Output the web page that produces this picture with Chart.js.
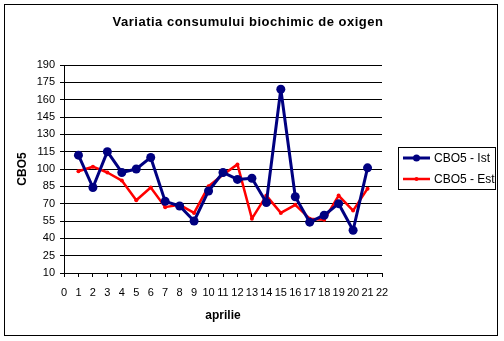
<!DOCTYPE html>
<html lang="en">
  <head>
    <meta charset="UTF-8" />
    <title>CBO5</title>
    <style>
      html, body { margin: 0; padding: 0; background: #fff; }
      #wrap { width: 504px; height: 341px; }
    </style>
  </head>
  <body>
    <div id="wrap"><canvas id="myChart" width="504" height="341"></canvas></div>
    <script src="https://cdn.jsdelivr.net/npm/chart.js@4.4.1/dist/chart.umd.min.js"></script>
    <script>
      const days = [1, 2, 3, 4, 5, 6, 7, 8, 9, 10, 11, 12, 13, 14, 15, 16, 17, 18, 19, 20, 21];
      const cboIst = [112, 84, 115, 97, 100, 110, 72, 68, 55, 81, 97, 91, 92, 71, 169, 76, 54, 60, 70, 47, 101];
      const cboEst = [98, 102, 97, 90, 73, 84, 67, 69, 62, 85, 95, 104, 57, 77, 62, 69, 57, 56, 77, 64, 83];
      const seriesNames = ["CBO5 - Ist", "CBO5 - Est"];
      const chartTitle = "Variatia consumului biochimic de oxigen";
      const FONT = "'Liberation Sans', Arial, sans-serif";

      // outer frame, centred title and legend box
      const framePlugin = {
        id: "frame",
        beforeDraw(chart) {
          const c = chart.ctx;
          c.save();
          c.fillStyle = "#fff";
          c.fillRect(0, 0, chart.width, chart.height);
          c.strokeStyle = "#000";
          c.lineWidth = 1;
          c.strokeRect(4.5, 4.5, 493, 331);
          c.restore();
        },
        afterDraw(chart) {
          const c = chart.ctx;
          c.save();
          c.fillStyle = "#000";
          c.font = "bold 13px " + FONT;
          c.letterSpacing = "0.5px";
          c.textAlign = "center";
          c.textBaseline = "middle";
          c.fillText(chartTitle, 248, 22);
          c.letterSpacing = "0px";

          c.strokeStyle = "#000";
          c.lineWidth = 1;
          c.strokeRect(398.5, 147.5, 97, 42);
          c.font = "12px " + FONT;
          c.textAlign = "left";
          chart.data.datasets.forEach((ds, i) => {
            const y = 158 + i * 21;
            c.strokeStyle = ds.borderColor;
            c.lineWidth = ds.borderWidth;
            c.beginPath();
            c.moveTo(403, y);
            c.lineTo(430, y);
            c.stroke();
            c.fillStyle = ds.pointBackgroundColor;
            c.beginPath();
            c.arc(416.5, y, i === 0 ? 3.5 : 2, 0, Math.PI * 2);
            c.fill();
            c.fillStyle = "#000";
            c.fillText(ds.label, 434, y + 1);
          });
          c.restore();
        },
      };

      const ctx = document.getElementById("myChart");
      const myChart = new Chart(ctx, {
        type: "line",
        data: {
          datasets: [
            {
              label: seriesNames[0],
              data: days.map((d, i) => ({ x: d, y: cboIst[i] })),
              borderColor: "#000080",
              backgroundColor: "#000080",
              pointBackgroundColor: "#000080",
              pointBorderColor: "#000080",
              borderWidth: 3,
              borderJoinStyle: "round",
              pointRadius: 4.5,
              pointBorderWidth: 0,
              tension: 0,
            },
            {
              label: seriesNames[1],
              data: days.map((d, i) => ({ x: d, y: cboEst[i] })),
              borderColor: "#ff0000",
              backgroundColor: "#ff0000",
              pointBackgroundColor: "#ff0000",
              pointBorderColor: "#ff0000",
              borderWidth: 2.5,
              borderJoinStyle: "round",
              pointRadius: 2,
              pointBorderWidth: 0,
              tension: 0,
            },
          ],
        },
        options: {
          responsive: false,
          animation: false,
          layout: { padding: { left: 0, right: 122, top: 65, bottom: 0 } },
          plugins: {
            legend: { display: false },
            tooltip: { enabled: false },
            title: { display: false },
          },
          scales: {
            x: {
              type: "linear",
              min: 0,
              max: 22,
              afterFit: (s) => { s.height = 68; },
              border: { color: "#000", width: 1 },
              grid: { drawOnChartArea: false, color: "#000", tickLength: 4 },
              ticks: {
                stepSize: 1,
                autoSkip: false,
                maxRotation: 0,
                padding: 9,
                color: "#000",
                font: { family: FONT, size: 11 },
              },
              title: {
                display: true,
                text: "aprilie",
                color: "#000",
                font: { family: FONT, size: 12, weight: "bold" },
                padding: { top: 0, bottom: 18 },
              },
            },
            y: {
              min: 10,
              max: 190,
              afterFit: (s) => { s.width = 64; },
              border: { color: "#000", width: 1 },
              grid: { color: "#000", tickLength: 4 },
              ticks: {
                stepSize: 15,
                padding: 5,
                color: "#000",
                font: { family: FONT, size: 11 },
              },
              title: {
                display: true,
                text: "CBO5",
                color: "#000",
                font: { family: FONT, size: 12, weight: "bold" },
                padding: { top: 15, bottom: 0 },
              },
            },
          },
        },
        plugins: [framePlugin],
      });
    </script>
  </body>
</html>
